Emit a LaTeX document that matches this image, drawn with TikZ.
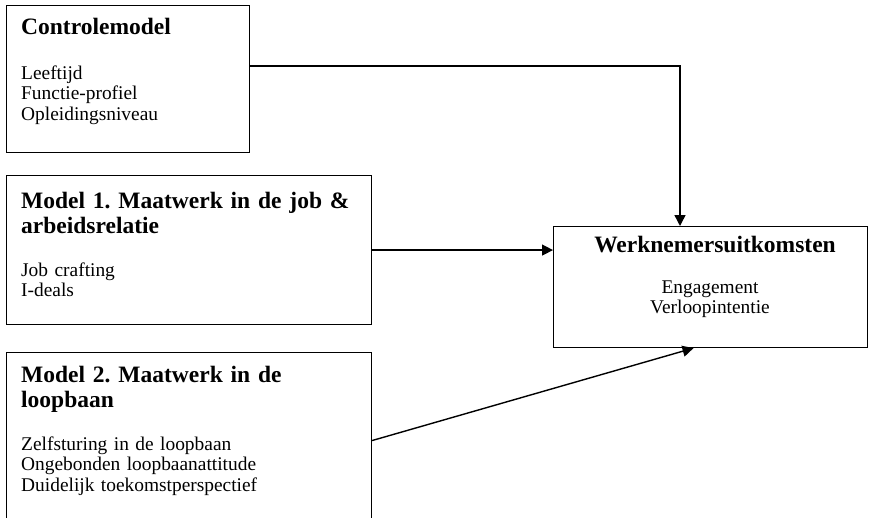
\documentclass[tikz,border=0pt]{standalone}
\usepackage{fontspec}
\setmainfont{Liberation Serif}
\usetikzlibrary{arrows.meta}
\frenchspacing

\begin{document}
\begin{tikzpicture}[x=1pt, y=-1pt,
        blok/.style = {draw, line width=1.1pt, anchor=north west, inner sep=0pt},
        kop/.style = {anchor=base west, inner sep=0pt, text width=340pt, align=left,
            font=\fontsize{23.5}{25}\selectfont\bfseries},
        lijst/.style = {anchor=base west, inner sep=0pt, text width=340pt, align=left,
            font=\fontsize{19.4}{20.5}\selectfont},
        pijl/.style = {line width=1.4pt, -{Triangle[length=11pt, width=11pt]}}]
        \useasboundingbox (0, 0) rectangle (870, 517);
        \node (ctrl) at (6, 5) [blok, minimum width=243pt, minimum height=147pt] {};
        \node (m1) at (6, 175) [blok, minimum width=365pt, minimum height=149pt] {};
        \node (m2) at (6, 352) [blok, minimum width=365pt, minimum height=176pt] {};
        \node (uit) at (553, 226) [blok, minimum width=314pt, minimum height=121pt] {};
        \node (ctrl-kop) at (21, 34) [kop] {Controlemodel};
        \node (ctrl-lijst) at (21, 79) [lijst] {Leeftijd\\ Functie-profiel\\ Opleidingsniveau};
        \node (m1-kop) at (21, 208) [kop] {Model 1. Maatwerk in de job \&\\ arbeidsrelatie};
        \node (m1-lijst) at (21, 276) [lijst] {Job crafting\\ I-deals};
        \node (m2-kop) at (21, 382) [kop] {Model 2. Maatwerk in de\\ loopbaan};
        \node (m2-lijst) at (21, 450) [lijst] {Zelfsturing in de loopbaan\\ Ongebonden loopbaanattitude\\ Duidelijk toekomstperspectief};
        \node (uit-kop) at (715, 252) [kop, anchor=base, align=center] {Werknemersuitkomsten};
        \node (uit-lijst) at (710, 293) [lijst, anchor=base, align=center] {Engagement\\ Verloopintentie};
        \coordinate (knik) at (680, 66);
        \draw [pijl] (ctrl.east |- knik) -- (knik) -- (knik |- uit.north);
        \draw [pijl] (m1.east) -- (m1.east -| uit.west);
        \draw [pijl] (m2.east) -- ([xshift=-17pt]uit.south);
    \end{tikzpicture}
\end{document}
